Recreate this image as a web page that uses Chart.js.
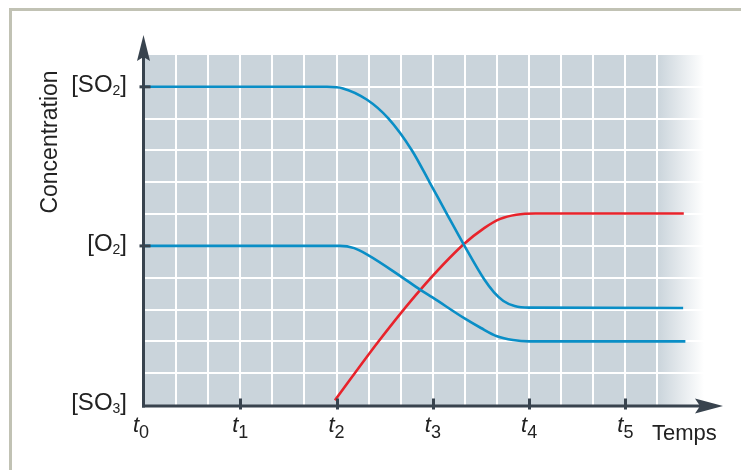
<!DOCTYPE html>
<html><head><meta charset="utf-8">
<script src="https://cdn.jsdelivr.net/npm/chart.js@4/dist/chart.umd.min.js"></script>
<style>html,body{margin:0;padding:0;background:#fff}#wrap{width:741px;height:470px;position:relative}</style>
</head><body><div id="wrap"><canvas id="c"></canvas></div>
<script>
// Time axis: grid units (3 units = one t step)
const timeTickValues = [0, 3, 6, 9, 12, 15];
const timeTickLabels = ['t₀', 't₁', 't₂', 't₃', 't₄', 't₅'];
// Concentration axis
const concTickValues = [0, 5, 10];
const concTickLabels = ['[SO₃]', '[O₂]', '[SO₂]'];
const xTitle = 'Temps';
const yTitle = 'Concentration';

// [SO2]
const so2Time = [0, 5.7, 6.2, 6.94, 7.62, 8.35, 8.9, 9.44, 9.96, 10.6, 10.9, 11.2, 11.55, 12.0, 16.8];
const so2Conc = [10, 10, 9.95, 9.6, 9.0, 8.0, 7.0, 6.0, 5.05, 3.95, 3.55, 3.27, 3.11, 3.06, 3.05];
// [O2]
const o2Time = [0, 6.1, 6.55, 6.97, 7.98, 8.61, 8.99, 9.99, 10.5, 11.0, 11.5, 12.0, 16.87];
const o2Conc = [5, 5, 4.93, 4.72, 4.06, 3.62, 3.38, 2.72, 2.42, 2.16, 2.04, 2.0, 2.0];
// [SO3]
const so3Time = [5.95, 7.3, 8.61, 9.96, 10.6, 11.1, 11.6, 12.2, 16.82];
const so3Conc = [0.15, 1.99, 3.62, 5.05, 5.56, 5.85, 5.98, 6.02, 6.02];

const BLUE = '#0a8ec6', RED = '#e8232b', DARK = '#38434e', PLOT = '#cad4db', TEXT = '#222';
const FONT = "'Liberation Sans', Arial, sans-serif";
const SUBS = '₀₁₂₃₄₅₆₇₈₉';

const toPts = (xs, ys) => xs.map((x, i) => ({x, y: ys[i]}));

// draw a label, rendering Unicode subscript digits as smaller lowered digits
function drawSub(ctx, str, x, y, mainFont, subFont, subDy, align) {
  const parts = [];
  for (const ch of str) {
    const k = SUBS.indexOf(ch);
    if (k >= 0) parts.push({t: String(k), sub: true});
    else parts.push({t: ch, sub: false});
  }
  let w = 0;
  parts.forEach(p => { ctx.font = p.sub ? subFont : mainFont; p.w = ctx.measureText(p.t).width; w += p.w; });
  let cx = align === 'right' ? x - w : align === 'center' ? x - w / 2 : x;
  ctx.textAlign = 'left';
  ctx.textBaseline = 'alphabetic';
  parts.forEach(p => {
    ctx.font = p.sub ? subFont : mainFont;
    ctx.fillText(p.t, cx, p.sub ? y + subDy : y);
    cx += p.w;
  });
}

const decor = {
  id: 'decor',
  beforeDraw(chart) {
    const {ctx, chartArea: a} = chart;
    ctx.save();
    ctx.fillStyle = '#fff';
    ctx.fillRect(0, 0, chart.width, chart.height);
    ctx.fillStyle = '#c1c2b4';
    ctx.fillRect(9, 8, chart.width, 3);
    ctx.fillRect(9, 8, 3, chart.height);
    const xs = chart.scales.x;
    const fadeStart = xs.getPixelForValue(16);
    const g = ctx.createLinearGradient(fadeStart, 0, a.right, 0);
    g.addColorStop(0, PLOT);
    g.addColorStop(1, 'rgba(202,212,219,0)');
    ctx.fillStyle = PLOT;
    ctx.fillRect(a.left, a.top, fadeStart - a.left, a.bottom - a.top);
    ctx.fillStyle = g;
    ctx.fillRect(fadeStart, a.top, a.right - fadeStart, a.bottom - a.top);
    ctx.restore();
  },
  afterDraw(chart) {
    const {ctx} = chart;
    const xs = chart.scales.x, ys = chart.scales.y;
    const x0 = xs.getPixelForValue(0) - 0.5;
    const y0 = ys.getPixelForValue(0) + 1;
    ctx.save();
    ctx.strokeStyle = DARK;
    ctx.fillStyle = DARK;
    ctx.lineWidth = 3;
    ctx.beginPath(); ctx.moveTo(x0, y0 + 1.5); ctx.lineTo(x0, 56); ctx.stroke();
    ctx.beginPath();
    ctx.moveTo(x0, 35); ctx.lineTo(x0 + 6.5, 61); ctx.lineTo(x0, 57); ctx.lineTo(x0 - 6.5, 61); ctx.closePath(); ctx.fill();
    ctx.beginPath(); ctx.moveTo(x0 - 1.5, y0); ctx.lineTo(700, y0); ctx.stroke();
    ctx.beginPath();
    ctx.moveTo(723, y0); ctx.lineTo(695, y0 - 7.5); ctx.lineTo(700, y0); ctx.lineTo(695, y0 + 7.5); ctx.closePath(); ctx.fill();
    timeTickValues.forEach(v => {
      if (v === 0) return;
      const px = Math.round(xs.getPixelForValue(v)) + 0.5;
      ctx.beginPath(); ctx.moveTo(px, y0 - 7.5); ctx.lineTo(px, y0 + 3.5); ctx.stroke();
    });
    concTickValues.forEach(v => {
      if (v === 0) return;
      const py = ys.getPixelForValue(v);
      ctx.beginPath(); ctx.moveTo(x0 - 4, py); ctx.lineTo(x0 + 7, py); ctx.stroke();
    });
    // tick labels
    ctx.fillStyle = TEXT;
    timeTickValues.forEach((v, i) => {
      const px = xs.getPixelForValue(v) - (i === 0 ? 3 : 0);
      drawSub(ctx, timeTickLabels[i], px, 432, 'italic 22px ' + FONT, '18px ' + FONT, 6, 'center');
    });
    concTickValues.forEach((v, i) => {
      const py = ys.getPixelForValue(v);
      drawSub(ctx, concTickLabels[i], 127, py + 5, '24px ' + FONT, '14px ' + FONT, 3, 'right');
    });
    // titles
    ctx.font = '22px ' + FONT;
    ctx.textAlign = 'left';
    ctx.textBaseline = 'alphabetic';
    ctx.fillText(xTitle, 652, 440);
    ctx.save();
    ctx.translate(57, 142);
    ctx.rotate(-Math.PI / 2);
    ctx.font = '23px ' + FONT;
    ctx.textAlign = 'center';
    ctx.fillText(yTitle, 0, 0);
    ctx.restore();
    ctx.restore();
  }
};

new Chart(document.getElementById('c'), {
  type: 'line',
  data: {
    datasets: [
      {label: '[SO₂]', data: toPts(so2Time, so2Conc), borderColor: BLUE},
      {label: '[O₂]', data: toPts(o2Time, o2Conc), borderColor: BLUE},
      {label: '[SO₃]', data: toPts(so3Time, so3Conc), borderColor: RED}
    ]
  },
  options: {
    responsive: true,
    maintainAspectRatio: false,
    animation: false,
    devicePixelRatio: 1,
    layout: {padding: {left: 0, top: 55, right: 37, bottom: 0}},
    elements: {
      line: {borderWidth: 2.6, cubicInterpolationMode: 'monotone', fill: false},
      point: {radius: 0, hoverRadius: 0}
    },
    plugins: {legend: {display: false}, tooltip: {enabled: false}},
    scales: {
      x: {
        type: 'linear', min: 0, max: 17.45,
        afterFit: s => { s.height = 65; },
        border: {display: false},
        grid: {
          drawTicks: false, lineWidth: 2,
          color: c => (c.tick && (c.tick.value === 0 || c.tick.value > 17)) ? 'rgba(0,0,0,0)' : '#ffffff'
        },
        ticks: {stepSize: 1, autoSkip: false, display: false}
      },
      y: {
        type: 'linear', min: 0, max: 11,
        afterFit: s => { s.width = 144; },
        border: {display: false},
        grid: {
          drawTicks: false, lineWidth: 2,
          color: c => (c.tick && (c.tick.value === 0 || c.tick.value === 11)) ? 'rgba(0,0,0,0)' : '#ffffff'
        },
        ticks: {stepSize: 1, autoSkip: false, display: false}
      }
    }
  },
  plugins: [decor]
});
</script>
</body></html>
